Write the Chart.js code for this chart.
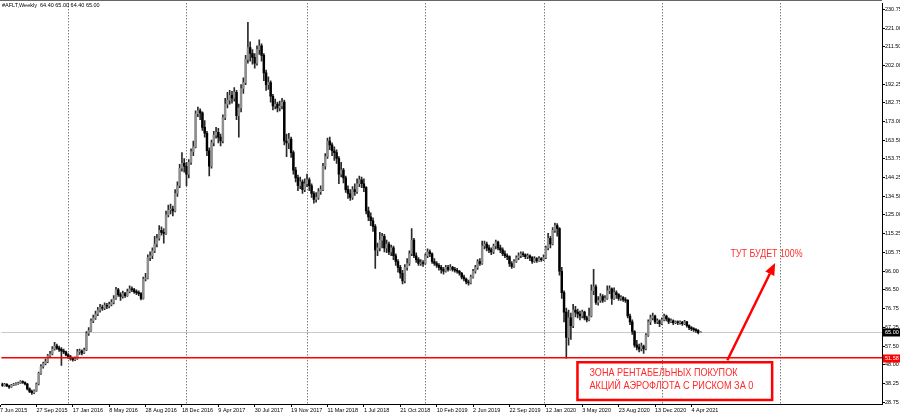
<!DOCTYPE html>
<html><head><meta charset="utf-8">
<script src="https://cdn.jsdelivr.net/npm/chart.js@4.4.1/dist/chart.umd.min.js"></script>
<style>html,body{margin:0;padding:0;background:#fff;overflow:hidden}#wrap{width:900px;height:418px;position:relative}</style>
</head><body><div id="wrap"><canvas id="c" width="900" height="418"></canvas></div>
<script>
// Weekly candles, week 0 = 7 Jun 2015
const opens=[38.3,38.0,37.2,37.8,37.0,36.5,37.5,37.8,38.2,38.5,
39.2,38.8,38.0,35.5,34.2,33.5,34.5,38.0,43.5,47.0,
48.5,49.5,52.5,53.5,56.0,57.5,56.5,55.8,55.0,54.5,
53.0,52.0,51.2,50.5,51.0,54.5,55.0,54.0,55.5,64.0,
65.5,70.5,72.0,74.0,76.0,77.5,77.0,78.5,78.0,79.0,
80.0,82.0,86.5,84.0,83.0,84.5,83.5,85.5,87.0,86.5,
85.5,85.0,84.5,82.0,92.0,92.5,103.0,104.0,106.5,110.0,
113.0,117.0,116.0,115.5,125.0,127.5,128.0,127.0,136.0,140.0,
149.0,151.5,150.0,146.0,152.0,157.5,160.0,177.0,178.5,177.5,
170.0,167.0,158.0,150.0,162.0,166.0,167.5,165.0,163.0,175.0,
182.0,184.0,186.5,185.0,188.0,176.0,180.0,190.0,193.0,205.0,
211.0,208.0,206.0,203.0,210.0,212.0,207.0,198.0,192.0,193.0,
186.0,181.0,182.0,180.0,181.0,183.0,163.0,162.0,164.0,157.0,
148.0,144.0,140.0,142.0,138.0,141.0,143.0,140.0,136.0,133.0,
134.0,137.0,138.0,150.0,155.0,163.0,161.0,158.0,157.0,154.0,
146.0,148.0,144.0,138.0,136.0,134.0,138.0,137.0,141.0,143.0,
141.0,139.0,127.0,124.0,122.0,119.0,107.0,108.0,112.0,114.0,
108.0,110.0,106.0,108.0,104.0,101.0,98.0,95.0,91.0,98.0,
100.0,105.0,112.0,104.0,102.0,100.0,100.5,100.0,104.0,106.0,
105.0,101.0,100.0,99.0,98.0,97.0,96.0,98.0,97.0,98.0,
97.0,96.5,96.0,95.0,93.0,92.0,90.5,90.0,93.0,96.0,
98.0,101.0,100.0,109.0,110.0,108.0,107.0,106.0,109.0,111.0,
108.0,107.0,105.0,104.0,103.5,100.0,98.5,101.0,103.0,104.0,
105.0,104.5,103.5,104.0,103.0,101.0,102.5,101.5,102.5,102.0,
103.0,108.0,113.0,110.0,117.0,119.5,118.0,96.0,85.0,75.0,
62.0,72.0,68.0,76.0,75.0,74.0,73.0,75.0,72.0,71.0,
73.0,86.0,88.0,80.0,81.0,83.0,81.0,82.0,86.0,87.0,
82.0,85.0,84.0,82.0,82.5,81.5,81.0,73.0,70.0,65.0,
58.0,57.0,56.0,57.5,56.0,63.0,70.0,72.0,73.0,70.0,
70.5,69.0,71.0,73.0,71.5,70.0,70.5,69.5,70.0,69.5,
69.8,69.0,70.0,68.0,67.0,66.5,66.0,65.5,64.4];
const highs=[38.9,38.5,38.3,38.2,37.4,37.9,38.3,38.7,39.0,39.8,
39.7,39.1,38.3,36.0,34.9,35.0,38.6,44.2,48.0,49.3,
50.8,53.3,54.8,57.2,59.5,58.6,57.5,56.8,56.0,55.0,
53.6,52.8,51.8,52.0,55.8,56.0,55.6,56.5,65.0,67.0,
71.5,73.5,75.5,77.5,79.0,78.6,79.8,79.5,80.2,81.5,
83.5,87.8,87.2,85.0,85.8,85.2,86.8,88.5,88.0,87.2,
86.5,86.0,85.0,93.0,95.0,104.5,106.0,108.0,114.0,115.0,
119.5,118.8,118.0,127.0,130.0,130.5,129.5,138.0,142.0,151.0,
157.0,154.0,152.0,153.5,159.0,163.0,178.5,180.5,179.5,178.0,
173.5,168.0,159.5,163.5,168.0,170.0,169.5,166.5,176.5,185.0,
188.0,189.0,188.5,190.5,189.0,182.0,192.0,195.5,207.0,224.0,
214.0,210.0,208.0,212.0,215.0,213.0,208.0,199.5,196.0,194.0,
187.0,184.5,183.0,183.5,185.0,184.0,166.5,167.0,165.0,158.0,
149.5,145.5,144.5,143.0,143.5,146.0,144.0,141.0,137.0,136.5,
138.5,140.0,151.5,156.5,164.5,165.0,162.0,160.0,158.5,155.0,
152.0,149.0,145.0,140.0,138.0,139.5,141.0,143.5,145.0,144.5,
143.5,139.5,129.0,126.0,123.5,120.0,110.5,116.0,115.5,115.0,
112.0,111.0,109.5,109.0,105.0,102.0,99.0,96.5,99.5,102.5,
106.5,118.0,113.0,105.5,103.0,102.0,101.5,105.0,107.5,107.0,
105.5,102.5,101.0,100.0,99.0,98.0,99.0,99.0,99.5,98.5,
98.0,97.5,96.5,95.5,94.0,92.5,91.5,94.0,97.0,99.0,
102.0,102.5,111.5,111.5,111.0,109.5,108.0,110.0,112.0,111.5,
109.5,108.0,106.5,105.0,104.0,101.0,102.0,104.0,105.5,106.0,
106.0,105.0,105.0,104.5,103.5,103.5,103.0,103.5,103.0,104.5,
109.0,115.5,114.0,118.5,120.8,120.5,118.5,98.0,86.0,77.0,
76.0,74.5,79.0,78.0,76.5,75.5,76.0,75.5,73.0,77.0,
89.0,97.0,89.0,83.0,84.5,84.0,83.5,88.5,88.5,87.5,
87.5,86.0,84.5,83.5,83.0,82.5,81.5,74.0,71.0,65.5,
60.5,58.5,59.0,58.0,64.0,71.0,73.5,74.5,73.5,71.5,
71.0,72.0,74.0,73.5,72.0,71.5,71.0,70.5,70.5,70.5,
70.3,70.8,70.2,68.5,67.5,67.0,66.5,66.0,65.0];
const lows=[37.4,36.8,36.9,36.6,35.8,36.2,37.1,37.4,37.8,38.2,
38.3,37.5,35.0,33.6,32.6,33.0,34.2,37.6,43.0,46.2,
47.8,49.0,51.8,53.0,55.4,55.8,54.8,47.6,53.6,52.4,
51.2,50.3,49.8,50.0,50.6,53.2,53.0,53.6,55.2,63.0,
65.0,69.5,71.2,73.2,75.0,75.8,76.2,76.8,77.2,78.2,
79.2,81.5,83.0,81.0,82.2,82.6,83.0,84.8,85.5,84.6,
84.0,83.5,81.2,81.6,91.0,92.0,101.5,102.5,105.5,108.5,
112.0,114.5,110.5,115.0,124.0,125.5,124.5,126.5,134.5,139.0,
147.5,147.0,140.0,144.0,151.0,155.5,159.5,175.5,174.0,168.5,
165.0,155.5,145.0,149.0,160.5,164.5,162.0,160.5,162.0,174.0,
180.0,182.0,182.5,183.5,174.0,165.0,178.0,187.5,192.0,203.0,
204.0,202.5,200.5,202.0,207.5,204.0,194.0,189.0,189.5,183.0,
179.0,179.5,178.0,178.5,179.5,161.0,155.0,159.0,154.5,146.0,
142.0,137.5,138.5,136.0,137.0,139.5,137.5,134.0,131.0,131.5,
133.0,135.5,137.5,148.5,154.0,158.5,155.5,153.0,151.5,141.0,
144.5,141.5,136.5,133.5,132.5,133.0,135.0,136.0,139.5,139.0,
137.0,125.5,122.0,119.5,116.5,97.5,104.0,106.5,108.0,106.0,
105.5,104.5,104.0,102.0,99.0,95.5,92.5,89.5,90.0,96.5,
99.0,104.0,103.0,100.5,99.0,99.0,98.5,99.5,103.0,103.5,
100.0,99.0,98.0,96.5,95.0,94.5,95.5,96.0,96.5,96.0,
95.5,95.0,94.0,92.0,91.0,89.5,88.8,89.5,92.5,95.0,
97.0,99.0,99.5,107.5,106.5,105.5,104.5,105.0,107.5,107.0,
105.5,104.0,103.0,102.0,98.5,97.5,98.0,100.5,102.0,103.0,
103.5,102.5,102.5,101.5,100.0,100.5,100.5,101.0,101.0,101.5,
102.5,107.0,108.0,109.5,116.0,114.0,94.0,82.0,70.0,51.3,
58.0,61.0,67.0,72.5,72.0,71.0,72.0,71.0,70.0,70.5,
72.5,84.0,79.0,78.5,80.0,80.0,80.5,81.5,84.5,79.0,
81.5,82.0,81.0,81.0,80.5,80.0,72.0,68.5,63.5,57.0,
55.5,54.5,55.0,53.8,55.5,62.5,68.5,71.0,69.0,69.0,
67.5,68.5,70.5,70.5,69.0,69.5,68.5,69.0,68.5,68.8,
68.2,68.5,67.2,66.0,65.5,65.0,64.5,63.8,64.4];
const closes=[38.0,37.2,37.8,37.0,36.5,37.5,37.8,38.2,38.5,39.2,
38.8,38.0,35.5,34.2,33.5,34.5,38.0,43.5,47.0,48.5,
49.5,52.5,53.5,56.0,57.5,56.5,55.8,55.0,54.5,53.0,
52.0,51.2,50.5,51.0,54.5,55.0,54.0,55.5,64.0,65.5,
70.5,72.0,74.0,76.0,77.5,77.0,78.5,78.0,79.0,80.0,
82.0,86.5,84.0,83.0,84.5,83.5,85.5,87.0,86.5,85.5,
85.0,84.5,82.0,92.0,92.5,103.0,104.0,106.5,110.0,113.0,
117.0,116.0,115.5,125.0,127.5,128.0,127.0,136.0,140.0,149.0,
151.5,150.0,146.0,152.0,157.5,160.0,177.0,178.5,177.5,170.0,
167.0,158.0,150.0,162.0,166.0,167.5,165.0,163.0,175.0,182.0,
184.0,186.5,185.0,188.0,176.0,180.0,190.0,193.0,205.0,211.0,
208.0,206.0,203.0,210.0,212.0,207.0,198.0,192.0,193.0,186.0,
181.0,182.0,180.0,181.0,183.0,163.0,162.0,164.0,157.0,148.0,
144.0,140.0,142.0,138.0,141.0,143.0,140.0,136.0,133.0,134.0,
137.0,138.0,150.0,155.0,163.0,161.0,158.0,157.0,154.0,146.0,
148.0,144.0,138.0,136.0,134.0,138.0,137.0,141.0,143.0,141.0,
139.0,127.0,124.0,122.0,119.0,107.0,108.0,112.0,114.0,108.0,
110.0,106.0,108.0,104.0,101.0,98.0,95.0,91.0,98.0,100.0,
105.0,112.0,104.0,102.0,100.0,100.5,100.0,104.0,106.0,105.0,
101.0,100.0,99.0,98.0,97.0,96.0,98.0,97.0,98.0,97.0,
96.5,96.0,95.0,93.0,92.0,90.5,90.0,93.0,96.0,98.0,
101.0,100.0,109.0,110.0,108.0,107.0,106.0,109.0,111.0,108.0,
107.0,105.0,104.0,103.5,100.0,98.5,101.0,103.0,104.0,105.0,
104.5,103.5,104.0,103.0,101.0,102.5,101.5,102.5,102.0,103.0,
108.0,113.0,110.0,117.0,119.5,118.0,96.0,85.0,75.0,62.0,
72.0,68.0,76.0,75.0,74.0,73.0,75.0,72.0,71.0,73.0,
86.0,88.0,80.0,81.0,83.0,81.0,82.0,86.0,87.0,82.0,
85.0,84.0,82.0,82.5,81.5,81.0,73.0,70.0,65.0,58.0,
57.0,56.0,57.5,56.0,63.0,70.0,72.0,73.0,70.0,70.5,
69.0,71.0,73.0,71.5,70.0,70.5,69.5,70.0,69.5,69.8,
69.0,70.0,68.0,67.0,66.5,66.0,65.5,64.4,65.0];

// x tick labels, one every 16 weeks starting at week 0
const tickLabels=["7 Jun 2015","27 Sep 2015","17 Jan 2016","8 May 2016","28 Aug 2016","18 Dec 2016","9 Apr 2017","30 Jul 2017","19 Nov 2017","11 Mar 2018","1 Jul 2018","21 Oct 2018","10 Feb 2019","2 Jun 2019","22 Sep 2019","12 Jan 2020","3 May 2020","23 Aug 2020","13 Dec 2020","4 Apr 2021"];
const tickStepWeeks=16;
const yTickValues=[230.75,221.00,211.50,202.00,192.25,182.75,173.00,163.50,153.75,144.25,134.50,125.00,115.25,105.75,96.00,86.50,76.75,67.25,57.50,48.00,38.25,28.75];
// first weekly bar of each year (2016..2022) -> dotted separators
const yearStartWeeks=[30,82,135,187,239,291,343];
const symbolTitle="#AFLT,Weekly  64.40 65.00 64.40 65.00";
const currentPrice=65.00;
const zoneLevel=51.58;
const zoneBox={x0:253.9,x1:339.5,y0:49.2,y1:29.8};
const zoneText=["ЗОНА РЕНТАБЕЛЬНЫХ ПОКУПОК","АКЦИЙ АЭРОФЛОТА С РИСКОМ ЗА 0"];
const arrow={x0:319.8,y0:50.2,x1:340.8,y1:100.3};
const targetText="ТУТ БУДЕТ 100%";
const targetPos={x:321.2,y:104.6};

const FONT='"Liberation Sans", Arial, sans-serif';
const upColor='#8f8f8f', downColor='#000000', wickColor='#2a2a2a', red='#ff0000';

const bodyData=opens.map((o,i)=>({x:i,y:[o,closes[i]]}));
const wickData=lows.map((l,i)=>({x:i,y:[l,highs[i]]}));

const annot={
  id:'annot',
  beforeDatasetsDraw(chart){
    const {ctx,chartArea:a,scales:{x,y}}=chart;
    ctx.save();
    ctx.strokeStyle='#444'; ctx.lineWidth=1; ctx.setLineDash([1,2]);
    yearStartWeeks.forEach(v=>{
      const px=Math.round(x.getPixelForValue(v))+0.5;
      ctx.beginPath(); ctx.moveTo(px,a.top); ctx.lineTo(px,a.bottom); ctx.stroke();
    });
    ctx.setLineDash([]);
    const py=Math.round(y.getPixelForValue(currentPrice))+0.5;
    ctx.strokeStyle='#c8c8c8';
    ctx.beginPath(); ctx.moveTo(a.left,py); ctx.lineTo(a.right,py); ctx.stroke();
    ctx.restore();
  },
  afterDatasetsDraw(chart){
    const {ctx,chartArea:a,scales:{x,y}}=chart;
    ctx.save();
    const ry=y.getPixelForValue(zoneLevel);
    ctx.strokeStyle=red; ctx.lineWidth=1.5;
    ctx.beginPath(); ctx.moveTo(a.left,ry); ctx.lineTo(a.right,ry); ctx.stroke();
    const bx0=x.getPixelForValue(zoneBox.x0), bx1=x.getPixelForValue(zoneBox.x1);
    const by0=y.getPixelForValue(zoneBox.y0), by1=y.getPixelForValue(zoneBox.y1);
    ctx.lineWidth=2.5; ctx.strokeStyle=red;
    ctx.strokeRect(bx0,by0,bx1-bx0,by1-by0);
    ctx.fillStyle='#ff2a2a';
    ctx.font='10.5px '+FONT; ctx.textBaseline='middle'; ctx.textAlign='left';
    ctx.fillText(zoneText[0],bx0+12,by0+11,148);
    ctx.fillText(zoneText[1],bx0+12,by0+24,164);
    const ax0=x.getPixelForValue(arrow.x0), ay0=y.getPixelForValue(arrow.y0);
    const ax1=x.getPixelForValue(arrow.x1), ay1=y.getPixelForValue(arrow.y1);
    const ang=Math.atan2(ay1-ay0,ax1-ax0), hl=12, hw=5;
    const bxh=ax1-hl*Math.cos(ang), byh=ay1-hl*Math.sin(ang);
    ctx.strokeStyle=red; ctx.lineWidth=2.5;
    ctx.beginPath(); ctx.moveTo(ax0,ay0); ctx.lineTo(bxh,byh); ctx.stroke();
    ctx.fillStyle=red;
    ctx.beginPath();
    ctx.moveTo(ax1,ay1);
    ctx.lineTo(bxh+hw*Math.sin(ang),byh-hw*Math.cos(ang));
    ctx.lineTo(bxh-hw*Math.sin(ang),byh+hw*Math.cos(ang));
    ctx.closePath(); ctx.fill();
    ctx.fillStyle='#ff2a2a'; ctx.font='10.5px '+FONT;
    ctx.fillText(targetText,x.getPixelForValue(targetPos.x),y.getPixelForValue(targetPos.y),72);
    ctx.restore();
  },
  afterDraw(chart){
    const {ctx,chartArea:a,scales:{y}}=chart;
    ctx.save();
    ctx.strokeStyle='#666'; ctx.lineWidth=1;
    ctx.beginPath(); ctx.moveTo(0,0.5); ctx.lineTo(a.right,0.5); ctx.stroke();
    ctx.font='5.5px '+FONT; ctx.textBaseline='middle'; ctx.textAlign='left';
    ctx.fillStyle='#000'; ctx.fillText(symbolTitle,2,5.5);
    const tag=(v,bg)=>{
      const py=Math.round(y.getPixelForValue(v));
      ctx.fillStyle=bg; ctx.fillRect(a.right+1,py-3.5,18,8);
      ctx.fillStyle='#fff'; ctx.fillText(v.toFixed(2),a.right+3,py+0.5);
    };
    tag(currentPrice,'#000');
    tag(zoneLevel,red);
    ctx.restore();
  }
};

new Chart(document.getElementById('c'),{
  type:'bar',
  data:{datasets:[
    {data:bodyData,order:0,grouped:false,barThickness:1.8,borderWidth:0,
     backgroundColor:c=>closes[c.dataIndex]>=opens[c.dataIndex]?upColor:downColor},
    {data:wickData,order:1,grouped:false,barThickness:1,borderWidth:0,backgroundColor:wickColor}
  ]},
  options:{
    responsive:false,animation:false,devicePixelRatio:1,
    layout:{padding:{top:1,left:0,right:0,bottom:0}},
    plugins:{legend:{display:false},tooltip:{enabled:false}},
    scales:{
      x:{type:'linear',offset:false,min:0.615,max:387.8,
        afterBuildTicks:s=>{s.ticks=tickLabels.map((_,k)=>({value:k*tickStepWeeks}));},
        afterFit:s=>{s.height=14;},
        grid:{display:true,drawOnChartArea:false,tickLength:3,color:'#000',offset:false},
        border:{display:true,color:'#000',width:1},
        ticks:{autoSkip:false,maxRotation:0,minRotation:0,align:'start',padding:0,color:'#000',
          font:{family:FONT,size:5.5},
          callback:v=>tickLabels[Math.round(v/tickStepWeeks)]||''}
      },
      y:{type:'linear',position:'right',min:27.73,max:233.82,
        afterBuildTicks:s=>{s.ticks=yTickValues.map(v=>({value:v}));},
        afterFit:s=>{s.width=18;},
        grid:{display:true,drawOnChartArea:false,tickLength:3,color:'#000'},
        border:{display:true,color:'#000',width:1},
        ticks:{padding:0,color:'#000',font:{family:FONT,size:5.5},callback:v=>Number(v).toFixed(2)}
      }
    }
  },
  plugins:[annot]
});
</script></body></html>
